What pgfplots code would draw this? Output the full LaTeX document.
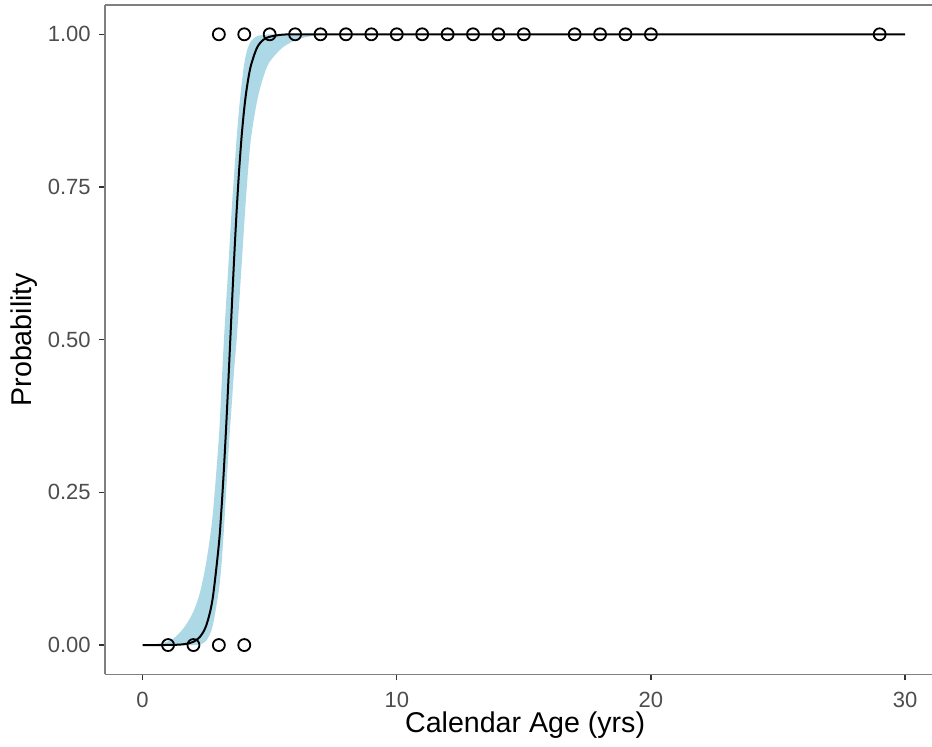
\documentclass[border=0pt]{standalone}
\usepackage{fontspec}
\setmainfont{Liberation Sans}
\usepackage{pgfplots}
\pgfplotsset{compat=1.18}
\usepgfplotslibrary{fillbetween}
\definecolor{band}{HTML}{ADD8E6}
\definecolor{axisgray}{HTML}{7F7F7F}
\definecolor{tickgray}{HTML}{333333}
\definecolor{labgray}{HTML}{4D4D4D}
\begin{document}
\begin{tikzpicture}
\begin{axis}[
  name=ax,
  scale only axis,
  width=413.5pt, height=334.7pt,
  xmin=-1.48, xmax=31.06, ymin=-0.048, ymax=1.048,
  axis lines=left,
  axis line style={-, draw=axisgray, line width=0.6pt},
  tick align=outside,
  major tick length=3pt,
  every tick/.style={draw=tickgray, line width=0.7pt},
  xtick={0,10,20,30}, xticklabels={0,10,20,30},
  ytick={0,0.25,0.5,0.75,1}, yticklabels={0.00,0.25,0.50,0.75,1.00},
  /pgf/number format/assume math mode=true,
  tick label style={font=\fontsize{11}{13}\selectfont, text=labgray, inner sep=0pt},
  xticklabel style={anchor=north, yshift=-5.85pt},
  yticklabel style={anchor=east, xshift=-4pt},
  xlabel={Calendar Age (yrs)},
  ylabel={Probability},
  label style={font=\fontsize{14.3}{16}\selectfont, text=black, inner sep=0pt},
  xlabel style={at={(axis description cs:0.508,-0.0862)}, anchor=base},
  ylabel style={at={(axis description cs:-0.0979,0.5)}, anchor=center},
  clip=true,
]
\addplot[name path=hi, draw=none, forget plot, smooth, tension=0.5] coordinates {
(0,0.0003) (0.5,0.0015) (1,0.006) (1.25,0.012) (1.5,0.022) (1.75,0.036) (2,0.055)
(2.25,0.085) (2.5,0.135) (2.75,0.21) (3,0.34) (3.1,0.42) (3.2,0.50) (3.3,0.57)
(3.4,0.64) (3.5,0.71) (3.6,0.77) (3.7,0.83) (3.8,0.88) (3.9,0.92) (4,0.952)
(4.1,0.972) (4.25,0.988) (4.5,0.997) (4.75,0.999) (5,1) (5.5,1) (6,1) (6.5,1)
(7,1) (8,1) (10,1) (15,1) (20,1) (30,1)};
\addplot[name path=lo, draw=none, forget plot, smooth, tension=0.5] coordinates {
(0,0) (0.5,0) (1,0) (1.25,0) (1.5,0) (1.75,0) (2,0)
(2.25,0.001) (2.5,0.007) (2.75,0.03) (3,0.09) (3.1,0.13) (3.2,0.19) (3.3,0.26)
(3.4,0.33) (3.5,0.39) (3.6,0.45) (3.7,0.50) (3.8,0.56) (3.9,0.625) (4,0.69)
(4.1,0.75) (4.25,0.825) (4.5,0.89) (4.75,0.93) (5,0.955) (5.5,0.978) (6,0.99) (6.5,0.996)
(7,0.999) (8,1) (10,1) (15,1) (20,1) (30,1)};
\addplot[band, draw=none] fill between[of=hi and lo];
\addplot[black, line width=1pt, smooth] coordinates {
(0,0) (0.5,0.00002) (1,0.00015) (1.25,0.00036) (1.5,0.0009) (1.75,0.0022) (2,0.0054)
(2.25,0.0131) (2.5,0.0316) (2.75,0.0745) (3,0.165) (3.1,0.221) (3.2,0.289) (3.3,0.368)
(3.4,0.455) (3.5,0.545) (3.6,0.632) (3.7,0.711) (3.8,0.779) (3.9,0.835) (4,0.879)
(4.1,0.912) (4.25,0.947) (4.5,0.978) (4.75,0.991) (5,0.996) (5.5,0.9994) (6,0.9999) (6.5,1)
(7,1) (8,1) (10,1) (15,1) (20,1) (30,1)};
\addplot[only marks, mark=o, mark size=3pt, mark options={line width=0.9pt, draw=black, fill=none}] coordinates {
(1,0) (2,0) (3,0) (4,0)
(3,1) (4,1) (5,1) (6,1) (7,1) (8,1) (9,1) (10,1) (11,1) (12,1) (13,1) (14,1) (15,1)
(17,1) (18,1) (19,1) (20,1) (29,1)};
\draw[axisgray, line width=0.6pt] (rel axis cs:0,1) -- (rel axis cs:1,1);
\end{axis}
\pgfresetboundingbox
\path[use as bounding box] ([xshift=-52.5pt,yshift=-35.85pt]ax.south west) rectangle ([yshift=2.5pt]ax.north east);
\end{tikzpicture}
\end{document}
